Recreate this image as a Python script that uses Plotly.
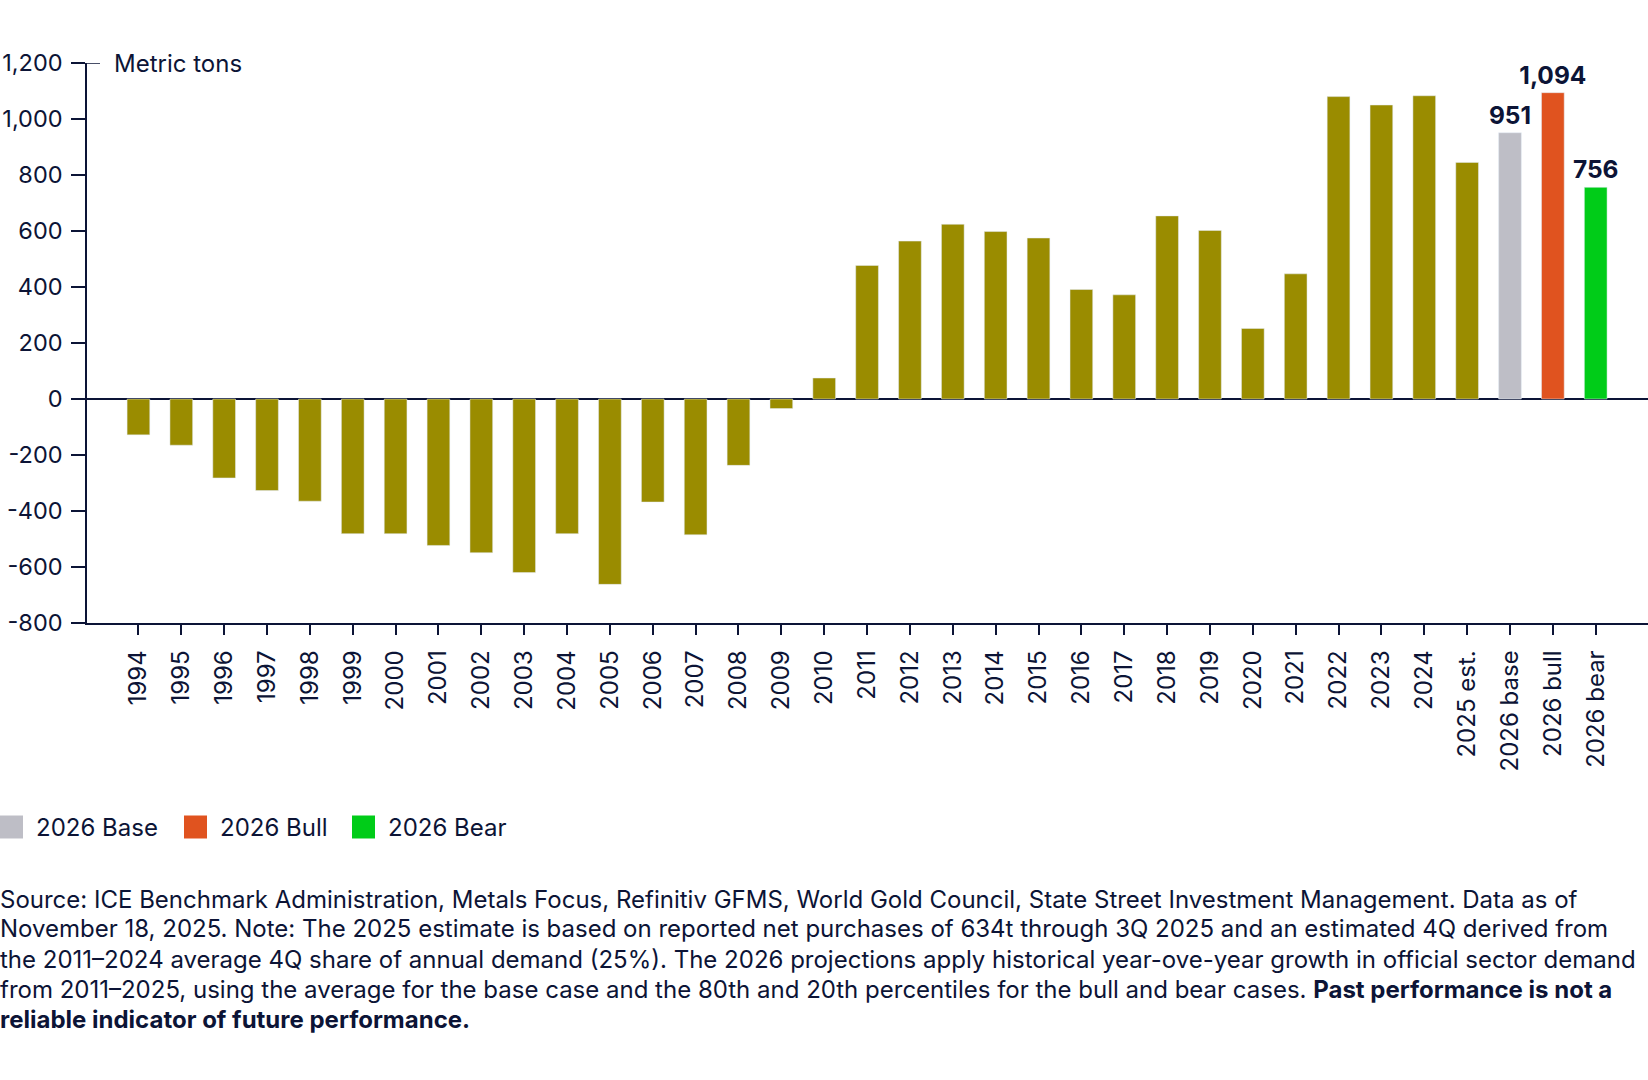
import plotly.graph_objects as go

# ---- data ----
hist_years = ["1994", "1995", "1996", "1997", "1998", "1999", "2000", "2001", "2002",
              "2003", "2004", "2005", "2006", "2007", "2008", "2009", "2010", "2011",
              "2012", "2013", "2014", "2015", "2016", "2017", "2018", "2019", "2020",
              "2021", "2022", "2023", "2024", "2025 est."]
hist_values = [-128, -165, -282, -327, -365, -481, -481, -523, -549,
               -620, -481, -662, -368, -485, -237, -34, 75, 477,
               564, 624, 598, 575, 391, 372, 654, 602, 252,
               447, 1080, 1050, 1083, 845]

proj_categories = ["2026 base", "2026 bull", "2026 bear"]
proj_names = ["2026 Base", "2026 Bull", "2026 Bear"]
proj_values = [951, 1094, 756]
proj_colors = ["#BEBEC6", "#E0531F", "#00CC18"]

y_ticks = [-800, -600, -400, -200, 0, 200, 400, 600, 800, 1000, 1200]

source_lines = [
    "Source: ICE Benchmark Administration, Metals Focus, Refinitiv GFMS, World Gold Council, State Street Investment Management. Data as of",
    "November 18, 2025. Note: The 2025 estimate is based on reported net purchases of 634t through 3Q 2025 and an estimated 4Q derived from",
    "the 2011–2024 average 4Q share of annual demand (25%). The 2026 projections apply historical year-ove-year growth in official sector demand",
    "from 2011–2025, using the average for the base case and the 80th and 20th percentiles for the bull and bear cases. <b>Past performance is not a</b>",
    "<b>reliable indicator of future performance.</b>",
]

NAVY = "#0C1436"
OLIVE = "#9A8C00"
FONT = "Inter"
FS = 24

W, H = 1648, 1080
ML, MR, MT, MB = 87, 0, 63, 457
PW, PH = W - ML - MR, H - MT - MB

def px_to_paper_x(px):
    return (px - ML) / PW

def px_to_paper_y(py):
    return (H - MB - py) / PH

fig = go.Figure()

fig.add_trace(go.Bar(
    x=hist_years, y=hist_values, marker_color=OLIVE, showlegend=False,
    name="Official sector demand", hoverinfo="x+y",
))

for cat, name, val, col in zip(proj_categories, proj_names, proj_values, proj_colors):
    fig.add_trace(go.Bar(
        x=[cat], y=[val], name=name, marker_color=col, showlegend=False,
        text=[f"{val:,}"], textposition="outside", cliponaxis=False,
        constraintext="none",
        textfont=dict(family=FONT, size=24.5, color=NAVY, weight="bold"),
    ))

all_cats = hist_years + proj_categories

fig.update_layout(
    width=W, height=H,
    margin=dict(l=ML, r=MR, t=MT, b=MB, pad=0, autoexpand=False),
    paper_bgcolor="white", plot_bgcolor="white",
    barmode="overlay", bargap=0.47,
    font=dict(family=FONT, size=FS, color=NAVY),
    showlegend=False,
    xaxis=dict(
        type="category", categoryorder="array", categoryarray=all_cats,
        range=[-1.2, len(all_cats) - 1 + 1.22],
        tickangle=-90, ticks="outside", ticklen=10, tickcolor=NAVY, tickwidth=1.5,
        showline=True, linecolor=NAVY, linewidth=1.5,
        showgrid=False, zeroline=False, automargin=False,
        tickfont=dict(family=FONT, size=FS, color=NAVY),
        ticklabelstandoff=6,
    ),
    yaxis=dict(
        range=[-800, 1200], tickvals=y_ticks,
        ticktext=[f"{v:,}" for v in y_ticks],
        ticks="outside", ticklen=14, tickcolor=NAVY, tickwidth=1.5,
        showline=True, linecolor=NAVY, linewidth=1.5,
        showgrid=False, zeroline=True, zerolinecolor=NAVY, zerolinewidth=1.5,
        tickfont=dict(family=FONT, size=23.5, color=NAVY),
        ticklabelstandoff=4, automargin=False,
    ),
)

# small extension of top tick to the right, and unit label
fig.add_shape(type="line", xref="paper", yref="y",
              x0=0, x1=px_to_paper_x(100), y0=1200, y1=1200,
              line=dict(color=NAVY, width=1.5))
fig.add_annotation(xref="paper", yref="y", x=px_to_paper_x(112), y=1200,
                   text="Metric tons", showarrow=False, xanchor="left", yanchor="middle",
                   font=dict(family=FONT, size=FS, color=NAVY))

# legend (swatches + labels) for the three 2026 scenarios
legend_y = 827
sw = 23
swatch_x = [0, 184, 352]
for name, col, x0 in zip(proj_names, proj_colors, swatch_x):
    fig.add_shape(type="rect", xref="paper", yref="paper",
                  x0=px_to_paper_x(x0), x1=px_to_paper_x(x0 + sw),
                  y0=px_to_paper_y(legend_y - sw / 2), y1=px_to_paper_y(legend_y + sw / 2),
                  fillcolor=col, line=dict(width=0))
    fig.add_annotation(xref="paper", yref="paper", x=px_to_paper_x(x0 + sw + 12),
                       y=px_to_paper_y(legend_y), text=name, showarrow=False,
                       xanchor="left", yanchor="middle", borderpad=0,
                       font=dict(family=FONT, size=FS, color=NAVY))

line_y = [899, 929, 959, 989, 1019]
for txt, yy in zip(source_lines, line_y):
    fig.add_annotation(xref="paper", yref="paper", x=px_to_paper_x(-1), y=px_to_paper_y(yy),
                       text=txt, showarrow=False, xanchor="left", yanchor="middle",
                       align="left", borderpad=0,
                       font=dict(family=FONT, size=FS, color=NAVY))

fig.write_html("out.html", config={"displayModeBar": False},
               post_script="document.body.style.margin='0';document.body.style.overflow='hidden';")
